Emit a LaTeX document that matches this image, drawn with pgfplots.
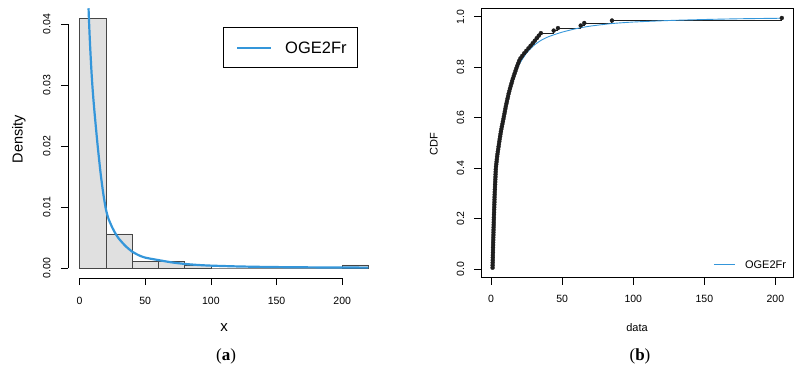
\documentclass[border=0pt]{standalone}
\usepackage{fontspec}
\setmainfont{Liberation Sans}
\newfontfamily\capfont{Liberation Serif}
\usepackage{pgfplots}
\pgfplotsset{compat=1.18}
\definecolor{fitblue}{RGB}{52,150,218}
\definecolor{histgray}{RGB}{224,224,224}
\definecolor{histedge}{RGB}{70,70,70}
\definecolor{ecdfcol}{RGB}{30,30,30}

\pgfplotstableread{
x y
1.00 0.005
1.04 0.015
1.08 0.025
1.13 0.035
1.17 0.045
1.21 0.055
1.25 0.065
1.29 0.075
1.34 0.085
1.38 0.095
1.43 0.105
1.48 0.115
1.53 0.125
1.58 0.135
1.63 0.145
1.68 0.155
1.73 0.165
1.78 0.175
1.83 0.185
1.88 0.195
1.93 0.205
1.99 0.215
2.05 0.225
2.11 0.235
2.17 0.245
2.23 0.255
2.29 0.265
2.35 0.275
2.41 0.285
2.47 0.295
2.54 0.305
2.62 0.315
2.70 0.325
2.78 0.335
2.86 0.345
2.94 0.355
3.02 0.365
3.10 0.375
3.18 0.385
3.26 0.395
3.40 0.405
3.60 0.415
3.80 0.425
4.00 0.435
4.20 0.445
4.43 0.455
4.69 0.465
4.95 0.475
5.21 0.485
5.47 0.495
5.74 0.505
6.02 0.515
6.30 0.525
6.58 0.535
6.86 0.545
7.18 0.555
7.54 0.565
7.90 0.575
8.26 0.585
8.62 0.595
8.97 0.605
9.31 0.615
9.65 0.625
9.99 0.635
10.33 0.645
10.70 0.655
11.10 0.665
11.50 0.675
11.90 0.685
12.30 0.695
12.75 0.705
13.25 0.715
13.75 0.725
14.25 0.735
14.75 0.745
15.30 0.755
15.90 0.765
16.50 0.775
17.10 0.785
17.70 0.795
18.33 0.805
19.00 0.815
19.67 0.825
20.60 0.835
21.90 0.845
23.25 0.855
24.75 0.865
26.25 0.875
27.75 0.885
29.25 0.895
30.70 0.905
32.10 0.915
33.50 0.925
35.00 0.935
44.00 0.945
47.00 0.955
63.00 0.965
65.50 0.975
85.00 0.985
204.50 0.995
}\ecdftable

\begin{document}
\begin{tikzpicture}[x=1pt,y=1pt]
\path[use as bounding box] (0,0) rectangle (794,-368);

% ---------------- Panel (a) ----------------
\begin{axis}[
  at={(68pt,-278pt)}, anchor=south west,
  width=312pt, height=270pt, scale only axis,
  xmin=-8.8, xmax=228.8, ymin=-0.00164, ymax=0.04264,
  axis line style={draw=none},
  tick align=outside, xtick pos=left, ytick pos=left,
  major tick length=7pt,
  tick style={black, line width=0.6pt},
  xtick={0,50,100,150,200},
  ytick={0,0.01,0.02,0.03,0.04},
  scaled y ticks=false,
  /pgf/number format/assume math mode=true,
  every tick label/.append style={inner sep=0pt, font=\fontsize{10.5}{12}\selectfont},
  xticklabel style={anchor=north},
  xticklabel shift=11.5pt,
  yticklabel style={rotate=90, anchor=south, /pgf/number format/.cd, fixed, fixed zerofill, precision=2},
  yticklabel shift=10.3pt,
]
\addplot[ybar interval, fill=histgray, draw=histedge, line width=0.6pt] coordinates {
(0,0.041) (20,0.0056) (40,0.0011) (60,0.0011) (80,0.0005) (100,0) (120,0) (140,0) (160,0) (180,0) (200,0.0005) (220,0.0005)};
\addplot[fitblue, line width=2.2pt, smooth, tension=0.4] coordinates {
(6.85,0.0426) (7,0.0416) (7.5,0.0390) (8,0.0366) (9,0.0325) (10,0.0292) (11,0.0265) (12,0.0241) (13,0.0218) (14,0.0196) (16,0.0156) (18,0.0123) (20,0.0097) (22,0.0081) (25,0.0066) (27.5,0.0056) (30,0.0048) (35,0.0036) (40,0.0027) (45,0.0021) (50,0.0017) (60,0.0013) (70,0.00093) (80,0.00067) (90,0.0005) (100,0.00039) (120,0.00026) (140,0.00018) (160,0.00013) (180,0.0001) (200,0.00008) (220,0.00006)};
\coordinate (ya0) at (axis cs:-8.8,0);
\coordinate (ya1) at (axis cs:-8.8,0.04);
\coordinate (xa0) at (axis cs:0,-0.00164);
\coordinate (xa1) at (axis cs:200,-0.00164);
\draw[black, line width=0.7pt, fill=white] (rel axis cs:0.498,0.9296) rectangle (rel axis cs:0.9285,0.7789);
\draw[fitblue, line width=2.2pt] (rel axis cs:0.5426,0.853) -- (rel axis cs:0.6497,0.853);
\node[anchor=base west, inner sep=0pt, font=\fontsize{16.5}{18}\selectfont] at (rel axis cs:0.6955,0.8307) {OGE2Fr};
\end{axis}
\draw[black, line width=0.6pt] (ya0) -- (ya1);
\draw[black, line width=0.6pt] (xa0) -- (xa1);
\node[anchor=base, inner sep=0pt, font=\fontsize{15}{17}\selectfont] at (224,-331.7) {x};
\node[anchor=base, rotate=90, inner sep=0pt, font=\fontsize{14.5}{17}\selectfont] at (22.7,-139) {Density};
\node[anchor=base, inner sep=0pt, font=\capfont\fontsize{17}{19}\selectfont] at (226,-360) {(\textbf{a})};

% ---------------- Panel (b) ----------------
\begin{axis}[
  at={(481pt,-277.7pt)}, anchor=south west,
  width=312.3pt, height=269.7pt, scale only axis,
  xmin=-7.14, xmax=212.6, ymin=-0.0346, ymax=1.0346,
  axis line style={black, line width=0.7pt},
  tick align=outside, xtick pos=left, ytick pos=left,
  major tick length=7pt,
  tick style={black, line width=0.6pt},
  xtick={0,50,100,150,200},
  ytick={0,0.2,0.4,0.6,0.8,1},
  /pgf/number format/assume math mode=true,
  every tick label/.append style={inner sep=0pt, font=\fontsize{10.5}{12}\selectfont},
  xticklabel style={anchor=north},
  xticklabel shift=10.3pt,
  yticklabel style={rotate=90, anchor=south, /pgf/number format/.cd, fixed, fixed zerofill, precision=1},
  yticklabel shift=9.5pt,
]
\addplot[const plot, ecdfcol, line width=1.0pt, mark=*, mark size=2.0pt, mark options={fill=ecdfcol, draw=ecdfcol, line width=0.3pt}] table[x=x, y=y] {\ecdftable};
\addplot[fitblue, line width=0.9pt, smooth, tension=0.4] coordinates {
(1.0,0.0) (1.2,0.04) (1.4,0.09) (1.6,0.13) (1.8,0.17) (2.0,0.21) (2.5,0.29) (3.0,0.35) (3.5,0.395) (4.0,0.43) (5.0,0.48) (6.0,0.52) (7.0,0.555) (8.0,0.585) (9.0,0.613) (10,0.638) (12,0.685) (14,0.725) (16,0.76) (18,0.79) (20,0.814) (25,0.857) (30,0.886) (35,0.906) (40,0.92) (45,0.93) (50,0.939) (60,0.953) (70,0.963) (85,0.973) (100,0.979) (125,0.985) (150,0.989) (175,0.992) (204.5,0.994)};
\draw[fitblue, line width=0.9pt] (rel axis cs:0.746,0.0508) -- (rel axis cs:0.813,0.0508);
\node[anchor=base west, inner sep=0pt, font=\fontsize{11}{13}\selectfont] at (rel axis cs:0.845,0.036) {OGE2Fr};
\end{axis}
\node[anchor=base, inner sep=0pt, font=\fontsize{11}{13}\selectfont] at (637,-331.7) {data};
\node[anchor=base, rotate=90, inner sep=0pt, font=\fontsize{11}{13}\selectfont] at (437.7,-144) {CDF};
\node[anchor=base, inner sep=0pt, font=\capfont\fontsize{17}{19}\selectfont] at (640,-360) {(\textbf{b})};
\end{tikzpicture}
\end{document}
